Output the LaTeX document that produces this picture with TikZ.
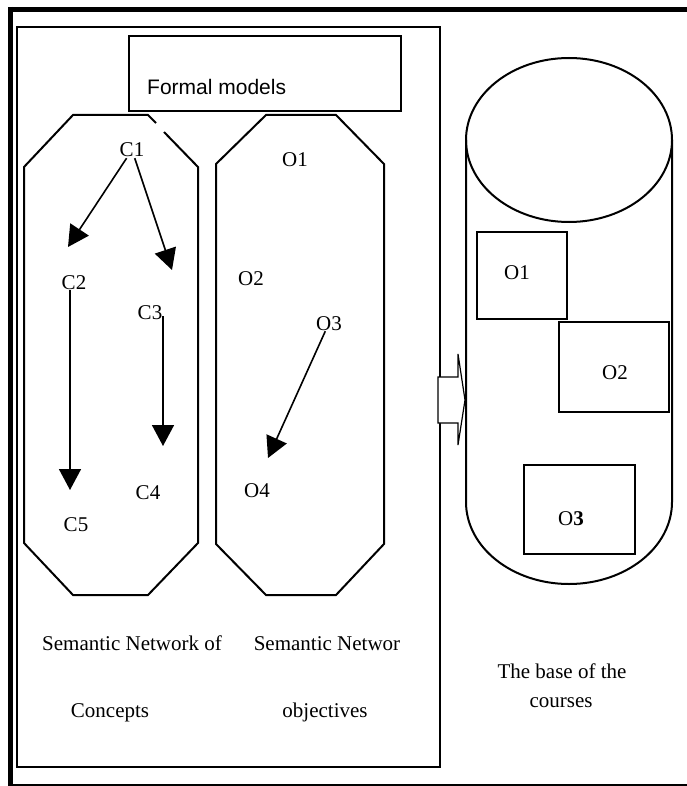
\documentclass[tikz,border=0pt]{standalone}
\usepackage{fontspec}
\setmainfont{Liberation Serif}
\newfontfamily\arialf{Liberation Sans}
\usetikzlibrary{arrows.meta}
\begin{document}
\begin{tikzpicture}[x=1pt,y=-1pt,
  lbl/.style={font=\fontsize{21}{25}\selectfont, inner sep=1pt, text height=14pt, text depth=0pt},
  captext/.style={font=\fontsize{21}{25}\selectfont, inner sep=0pt, anchor=base},
  shp/.style={draw=black, line width=2pt},
  arr/.style={line width=1.6pt, -{Triangle[length=21pt,width=22pt]}}]
\useasboundingbox (0,0) rectangle (687,786);
% outer frame
\draw[line width=5pt] (8,9.5) -- (687,9.5);
\draw[line width=5pt] (10.5,7) -- (10.5,786);
\draw[line width=2pt] (8,785) -- (687,785);
% inner rectangle
\draw[line width=2.5pt] (17,27) rectangle (440,767);
% formal models
\node[shp, minimum width=272pt, minimum height=75pt, anchor=north west] (fm) at (128,35) {};
\node[font=\arialf\fontsize{21}{25}\selectfont, anchor=base west, inner sep=0pt] (fmt) at (147,95) {Formal models};
% left octagon (with a gap in the upper right diagonal)
\draw[shp] (156,123) -- (148,115) -- (73,115) -- (24,167) -- (24,543) -- (73,595) -- (148,595) -- (198,543) -- (198,167) -- (164,132);
% right octagon
\draw[shp] (266,115) -- (336,115) -- (384,164) -- (384,544) -- (336,595) -- (266,595) -- (216,544) -- (216,164) -- cycle;
% concept nodes
\node[lbl] (C1) at (132,150) {C1};
\node[lbl] (C2) at (74,282) {C2};
\node[lbl] (C3) at (150,312) {C3};
\node[lbl] (C4) at (148,492) {C4};
\node[lbl] (C5) at (76,524) {C5};
\coordinate (c2tip) at (68,247);
\coordinate (c3tip) at (172,270);
\coordinate (c4tip) at (163,446);
\coordinate (c5tip) at (70,490);
\draw[arr] (C1) -- (c2tip);
\draw[arr] (C1) -- (c3tip);
\draw[arr] ([yshift=-4pt]C3.east -| c4tip) -- (c4tip);
\draw[arr] (C2.south -| c5tip) -- (c5tip);
% objective nodes
\node[lbl] (O1) at (295,160) {O1};
\node[lbl] (O2) at (251,278) {O2};
\node[lbl] (O3) at (329,323) {O3};
\node[lbl] (O4) at (257,490) {O4};
\coordinate (o4tip) at (268,458);
\draw[arr] (O3) -- (o4tip);
% block arrow
\draw[line width=1.2pt, fill=white] (438,377) -- (458,377) -- (458,354) -- (465,400) -- (458,445) -- (458,423) -- (438,423) -- cycle;
% cylinder
\draw[shp] (569,140) ellipse [x radius=103, y radius=82];
\draw[shp] (466,140) -- (466,502) arc [start angle=180, end angle=360, x radius=103, y radius=-82] -- (672,140);
% boxes in the cylinder
\node[shp, minimum width=90pt, minimum height=87pt, anchor=north west] (b1) at (476,231) {};
\node[shp, minimum width=110pt, minimum height=90pt, anchor=north west] (b2) at (558,321) {};
\node[shp, minimum width=111pt, minimum height=89pt, anchor=north west] (b3) at (523,464) {};
\node[lbl] (bo1) at (517,272) {O1};
\node[lbl] (bo2) at (615,372) {O2};
\node[lbl] (bo3) at (571,518) {O\textbf{3}};
% captions
\node[captext] (s1) at (132,650) {Semantic Network of};
\node[captext] (s2) at (110,717) {Concepts};
\node[captext] (s3) at (327,650) {Semantic Networ};
\node[captext] (s4) at (325,717) {objectives};
\node[captext] (s5) at (562,678) {The base of the};
\node[captext] (s6) at (561,707) {courses};
\end{tikzpicture}
\end{document}
